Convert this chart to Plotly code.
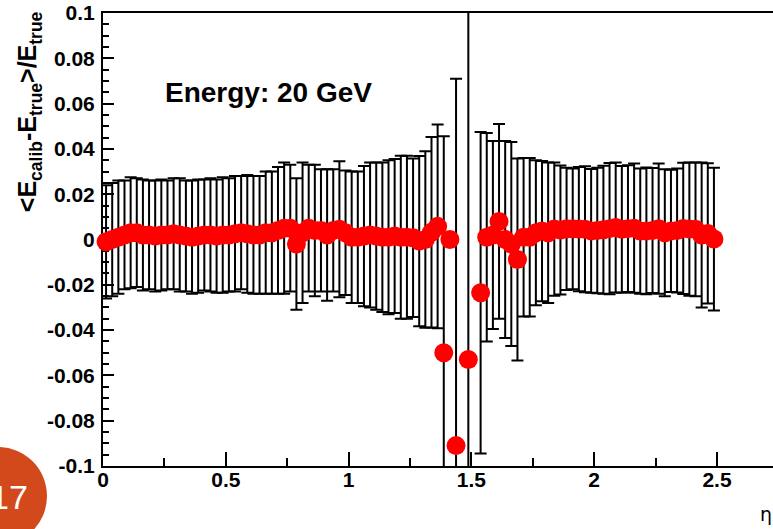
import plotly.graph_objects as go

eta = [0.0125, 0.0375, 0.0625, 0.0875, 0.1125, 0.1375, 0.1625, 0.1875, 0.2125, 0.2375,
       0.2625, 0.2875, 0.3125, 0.3375, 0.3625, 0.3875, 0.4125, 0.4375, 0.4625, 0.4875,
       0.5125, 0.5375, 0.5625, 0.5875, 0.6125, 0.6375, 0.6625, 0.6875, 0.7125, 0.7375,
       0.7625, 0.7875, 0.8125, 0.8375, 0.8625, 0.8875, 0.9125, 0.9375, 0.9625, 0.9875,
       1.0125, 1.0375, 1.0625, 1.0875, 1.1125, 1.1375, 1.1625, 1.1875, 1.2125, 1.2375,
       1.2625, 1.2875, 1.3125, 1.3375, 1.3625, 1.3875, 1.4125, 1.4375, 1.4875, 1.5375,
       1.5625, 1.5875, 1.6125, 1.6375, 1.6625, 1.6875, 1.7125, 1.7375, 1.7625, 1.7875,
       1.8125, 1.8375, 1.8625, 1.8875, 1.9125, 1.9375, 1.9625, 1.9875, 2.0125, 2.0375,
       2.0625, 2.0875, 2.1125, 2.1375, 2.1625, 2.1875, 2.2125, 2.2375, 2.2625, 2.2875,
       2.3125, 2.3375, 2.3625, 2.3875, 2.4125, 2.4375, 2.4625, 2.4875]

response = [-0.001, 0.000, 0.001, 0.002, 0.003, 0.003, 0.002, 0.002, 0.0015, 0.002,
            0.002, 0.0025, 0.002, 0.0015, 0.001, 0.0015, 0.002, 0.002, 0.0015, 0.002,
            0.002, 0.0025, 0.003, 0.0025, 0.002, 0.002, 0.003, 0.003, 0.004, 0.005,
            0.005, -0.002, 0.003, 0.005, 0.004, 0.004, 0.002, 0.004, 0.0045, 0.003,
            0.001, 0.001, 0.0015, 0.002, 0.0015, 0.001, 0.001, 0.0015, 0.001, 0.001,
            0.0008, -0.0007, 0.000, 0.0032, 0.0058, -0.050, 0.000, -0.091, -0.053, -0.0235,
            0.001, 0.002, 0.008, 0.000, -0.002, -0.0088, 0.001, 0.001, 0.003, 0.0037,
            0.003, 0.0046, 0.0042, 0.0047, 0.0047, 0.0046, 0.0045, 0.0038, 0.004, 0.0043,
            0.0048, 0.0053, 0.0045, 0.0048, 0.005, 0.0037, 0.0038, 0.004, 0.0048, 0.003,
            0.0038, 0.004, 0.0049, 0.0046, 0.0045, 0.002, 0.0027, 0.0002]

error = [0.025, 0.025, 0.025, 0.024, 0.0245, 0.024, 0.0245, 0.024, 0.0245, 0.0245,
         0.024, 0.0245, 0.025, 0.0245, 0.025, 0.025, 0.0245, 0.025, 0.025, 0.0255,
         0.025, 0.0255, 0.025, 0.026, 0.026, 0.026, 0.027, 0.027, 0.028, 0.029,
         0.028, 0.029, 0.031, 0.028, 0.029, 0.027, 0.029, 0.027, 0.030, 0.0275,
         0.029, 0.029, 0.031, 0.032, 0.0325, 0.033, 0.034, 0.034, 0.036, 0.036,
         0.035, 0.0376, 0.039, 0.042, 0.045, 0.0956, 0.0, 0.162, 0.17, 0.071,
         0.046, 0.0415, 0.043, 0.0435, 0.045, 0.0446, 0.035, 0.035, 0.032, 0.031,
         0.031, 0.0294, 0.0285, 0.027, 0.0267, 0.0274, 0.0278, 0.0273, 0.0277, 0.0283,
         0.029, 0.0287, 0.028, 0.028, 0.0285, 0.0276, 0.028, 0.0276, 0.0288, 0.028,
         0.027, 0.0274, 0.029, 0.0294, 0.0295, 0.032, 0.031, 0.0315]

x_tickvals = [0, 0.5, 1, 1.5, 2, 2.5]
x_ticktext = ["0", "0.5", "1", "1.5", "2", "2.5"]
y_tickvals = [0.1, 0.08, 0.06, 0.04, 0.02, 0, -0.02, -0.04, -0.06, -0.08, -0.1]
y_ticktext = ["0.1", "0.08", "0.06", "0.04", "0.02", "0", "-0.02", "-0.04", "-0.06", "-0.08", "-0.1"]

FONT = "Liberation Sans"

fig = go.Figure()
# error bars (clipped to frame)
fig.add_trace(go.Scatter(
    x=eta, y=response, mode="markers",
    marker=dict(size=2, color="rgba(0,0,0,0)"),
    error_y=dict(type="data", array=error, visible=True, color="black", thickness=2, width=6),
    cliponaxis=True, showlegend=False, hoverinfo="skip"))
# markers (not clipped, overlap the axis like ROOT)
fig.add_trace(go.Scatter(
    x=eta, y=response, mode="markers",
    marker=dict(size=19, color="#ff0000", line=dict(width=0)),
    cliponaxis=False, showlegend=False))

axis_common = dict(showgrid=False, zeroline=False, showline=True, linecolor="black",
                   linewidth=2, ticks="inside", tickcolor="black", tickwidth=2,
                   tickfont=dict(family=FONT, size=21, color="black", weight="bold"),
                   layer="below traces")

fig.update_xaxes(range=[0, 2.728], tickvals=x_tickvals, ticktext=x_ticktext,
                 ticklen=14, mirror=True, ticklabelstandoff=-6,
                 minor=dict(tickvals=[0.25, 0.75, 1.25, 1.75, 2.25], ticklen=8,
                            ticks="inside", tickcolor="black", tickwidth=2),
                 **axis_common)
fig.update_yaxes(range=[-0.1, 0.1], tickvals=y_tickvals, ticktext=y_ticktext,
                 ticklen=11, ticklabelstandoff=2,
                 minor=dict(dtick=0.005, ticklen=6, ticks="inside", tickcolor="black", tickwidth=2),
                 **axis_common)

fig.update_layout(
    width=773, height=529,
    margin=dict(l=103, r=0, t=13, b=63),
    paper_bgcolor="white", plot_bgcolor="white",
    font=dict(family=FONT, color="black"),
    shapes=[dict(type="circle", xref="paper", yref="paper",
                 x0=-0.23, x1=-0.0836, y0=-0.175, y1=0.042,
                 fillcolor="#d24a1c", line=dict(width=0), layer="above")],
    annotations=[
        dict(text="<b>Energy: 20 GeV</b>", xref="paper", yref="paper",
             x=0.0896, y=0.8256, xanchor="left", yanchor="middle", showarrow=False,
             font=dict(family=FONT, size=28, color="black")),
        dict(text="<b>&lt;E<sub>calib</sub>-E<sub>true</sub>&gt;/E<sub>true</sub></b>",
             xref="paper", yref="paper", x=-0.11, y=1.008, xanchor="center", yanchor="top",
             textangle=-90, showarrow=False,
             font=dict(family=FONT, size=25, color="black")),
        dict(text="η", xref="paper", yref="paper", x=0.99, y=-0.105,
             xanchor="center", yanchor="middle", showarrow=False,
             font=dict(family="DejaVu Sans", size=19, color="black")),
        dict(text="17", xref="paper", yref="paper", x=-0.14, y=-0.068,
             xanchor="center", yanchor="middle", showarrow=False,
             font=dict(family=FONT, size=34, color="white")),
    ],
)

fig.write_html("out.html")
